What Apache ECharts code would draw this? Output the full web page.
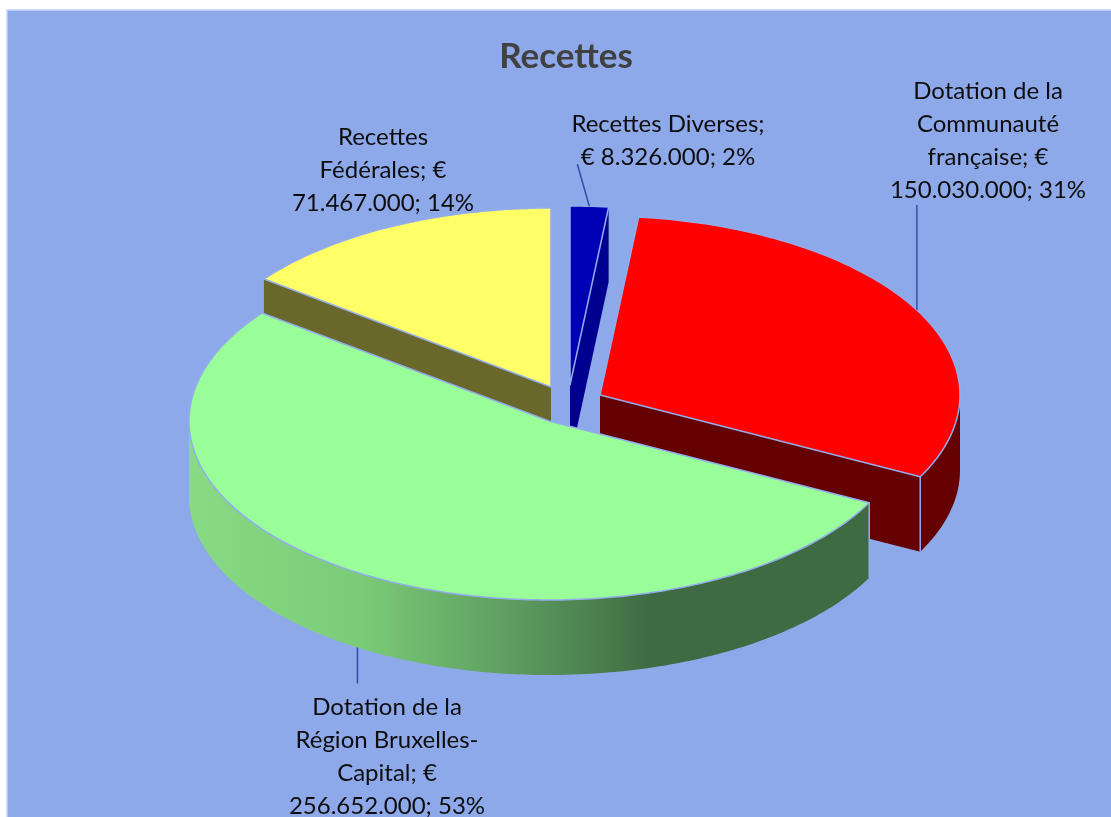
<!DOCTYPE html>
<html>
<head>
<meta charset="utf-8">
<style>
  html, body { margin: 0; padding: 0; background: #fff; }
  #chart { width: 1111px; height: 817px; }
</style>
<script src="https://cdn.jsdelivr.net/npm/echarts@6/dist/echarts.min.js"></script>
</head>
<body>
<div id="chart"></div>
<script>
const categories = ['Recettes Diverses', 'Dotation de la Communauté française', 'Dotation de la Région Bruxelles-Capital', 'Recettes Fédérales']
const values = [8326000, 150030000, 256652000, 71467000]
const labelTexts = [
  'Recettes Diverses;\n€ 8.326.000; 2%',
  'Dotation de la\nCommunauté\nfrançaise; €\n150.030.000; 31%',
  'Dotation de la\nRégion Bruxelles-\nCapital; €\n256.652.000; 53%',
  'Recettes\nFédérales; €\n71.467.000; 14%',
]

// pie look
const RX = 360
const RY = 179
const DEPTH = 75
const EDGE = '#93adec'
const FONT = 'Lato, "Open Sans", sans-serif'
const sliceStyle = [
  { cx: 570, cy: 385, top: '#0000b4', side: '#000090', order: 2, label: [668, 141], leader: [-12, -42] },
  { cx: 600, cy: 395, top: '#ff0000', side: '#640000', order: 3, label: [988, 141], leader: [0, -105] },
  {
    cx: 549, cy: 421, top: '#99fd99', order: 4, label: [387, 757], leader: [0, 36],
    side: {
      type: 'linear', x: 188, y: 0, x2: 869, y2: 0, global: true,
      colorStops: [
        { offset: 0, color: '#88da84' },
        { offset: 0.25, color: '#7bcc78' },
        { offset: 0.47, color: '#5e9e61' },
        { offset: 0.68, color: '#3f6b42' },
        { offset: 1, color: '#3f6b42' },
      ],
    },
  },
  { cx: 551, cy: 387, top: '#ffff66', side: '#6a672a', order: 1, label: [383, 170], leader: null },
]

const total = values.reduce((a, b) => a + b, 0)

function pointAt(s, deg, drop) {
  const r = deg * Math.PI / 180
  return [s.cx + RX * Math.sin(r), s.cy - RY * Math.cos(r) + (drop || 0)]
}

function arcPoints(s, from, to, drop) {
  const pts = []
  const steps = Math.max(2, Math.ceil(Math.abs(to - from)))
  for (let i = 0; i <= steps; i++) {
    pts.push(pointAt(s, from + (to - from) * i / steps, drop))
  }
  return pts
}

function renderSlice(params, api) {
  const i = api.value(0)
  const s = sliceStyle[i]
  let before = 0
  for (let k = 0; k < i; k++) before += values[k]
  const start = before / total * 360
  const end = start + api.value(1) / total * 360
  const z = s.order * 10
  const apex = [s.cx, s.cy]
  const children = []

  // the two cut faces
  ;[start, end].forEach(a => {
    const p = pointAt(s, a)
    children.push({
      type: 'polygon',
      z2: z,
      shape: { points: [apex, p, [p[0], p[1] + DEPTH], [apex[0], apex[1] + DEPTH]] },
      style: { fill: s.side === Object(s.side) ? '#3f6b42' : s.side },
    })
  })

  // outer wall, only the front half shows
  const wallFrom = Math.max(start, 90)
  const wallTo = Math.min(end, 270)
  if (wallTo > wallFrom) {
    children.push({
      type: 'polygon',
      z2: z + 1,
      shape: { points: arcPoints(s, wallFrom, wallTo).concat(arcPoints(s, wallTo, wallFrom, DEPTH)) },
      style: { fill: s.side },
    })
    ;[start, end].forEach(a => {
      if (a > 90 && a < 270) {
        const p = pointAt(s, a)
        children.push({
          type: 'line',
          z2: z + 2,
          shape: { x1: p[0], y1: p[1], x2: p[0], y2: p[1] + DEPTH },
          style: { stroke: EDGE, lineWidth: 1.5 },
        })
      }
    })
  }

  // top face
  children.push({
    type: 'polygon',
    z2: z + 3,
    shape: { points: [apex].concat(arcPoints(s, start, end)) },
    style: { fill: s.top, stroke: EDGE, lineWidth: 1.5, lineJoin: 'round' },
  })

  // leader line from the middle of the rim
  if (s.leader) {
    const mid = (start + end) / 2
    const a = pointAt(s, mid, Math.cos(mid * Math.PI / 180) < 0 ? DEPTH : 0)
    children.push({
      type: 'line',
      z2: 100,
      shape: { x1: a[0], y1: a[1], x2: a[0] + s.leader[0], y2: a[1] + s.leader[1] },
      style: { stroke: '#2f4fa8', lineWidth: 1.5 },
    })
  }

  children.push({
    type: 'text',
    z2: 101,
    style: {
      text: labelTexts[i],
      x: s.label[0],
      y: s.label[1],
      align: 'center',
      verticalAlign: 'middle',
      font: '24px ' + FONT,
      lineHeight: 33,
      fill: '#0d0d0d',
    },
  })

  return { type: 'group', children }
}

const chart = echarts.init(document.getElementById('chart'))
chart.setOption({
  animation: false,
  backgroundColor: '#ffffff',
  title: {
    text: 'Recettes',
    left: 561,
    top: 34,
    textAlign: 'center',
    textStyle: { fontFamily: FONT, fontSize: 35, fontWeight: 'bold', color: '#404040' },
  },
  graphic: [{
    type: 'rect',
    z: -1,
    shape: { x: 7, y: 10, width: 1110, height: 815 },
    style: { fill: '#8ea9ea', stroke: '#c6d4f4', lineWidth: 1.5 },
  }],
  series: [{
    type: 'custom',
    coordinateSystem: 'none',
    name: 'Recettes',
    renderItem: renderSlice,
    data: categories.map((c, i) => ({ name: c, value: [i, values[i]] })),
  }],
})
</script>
</body>
</html>
